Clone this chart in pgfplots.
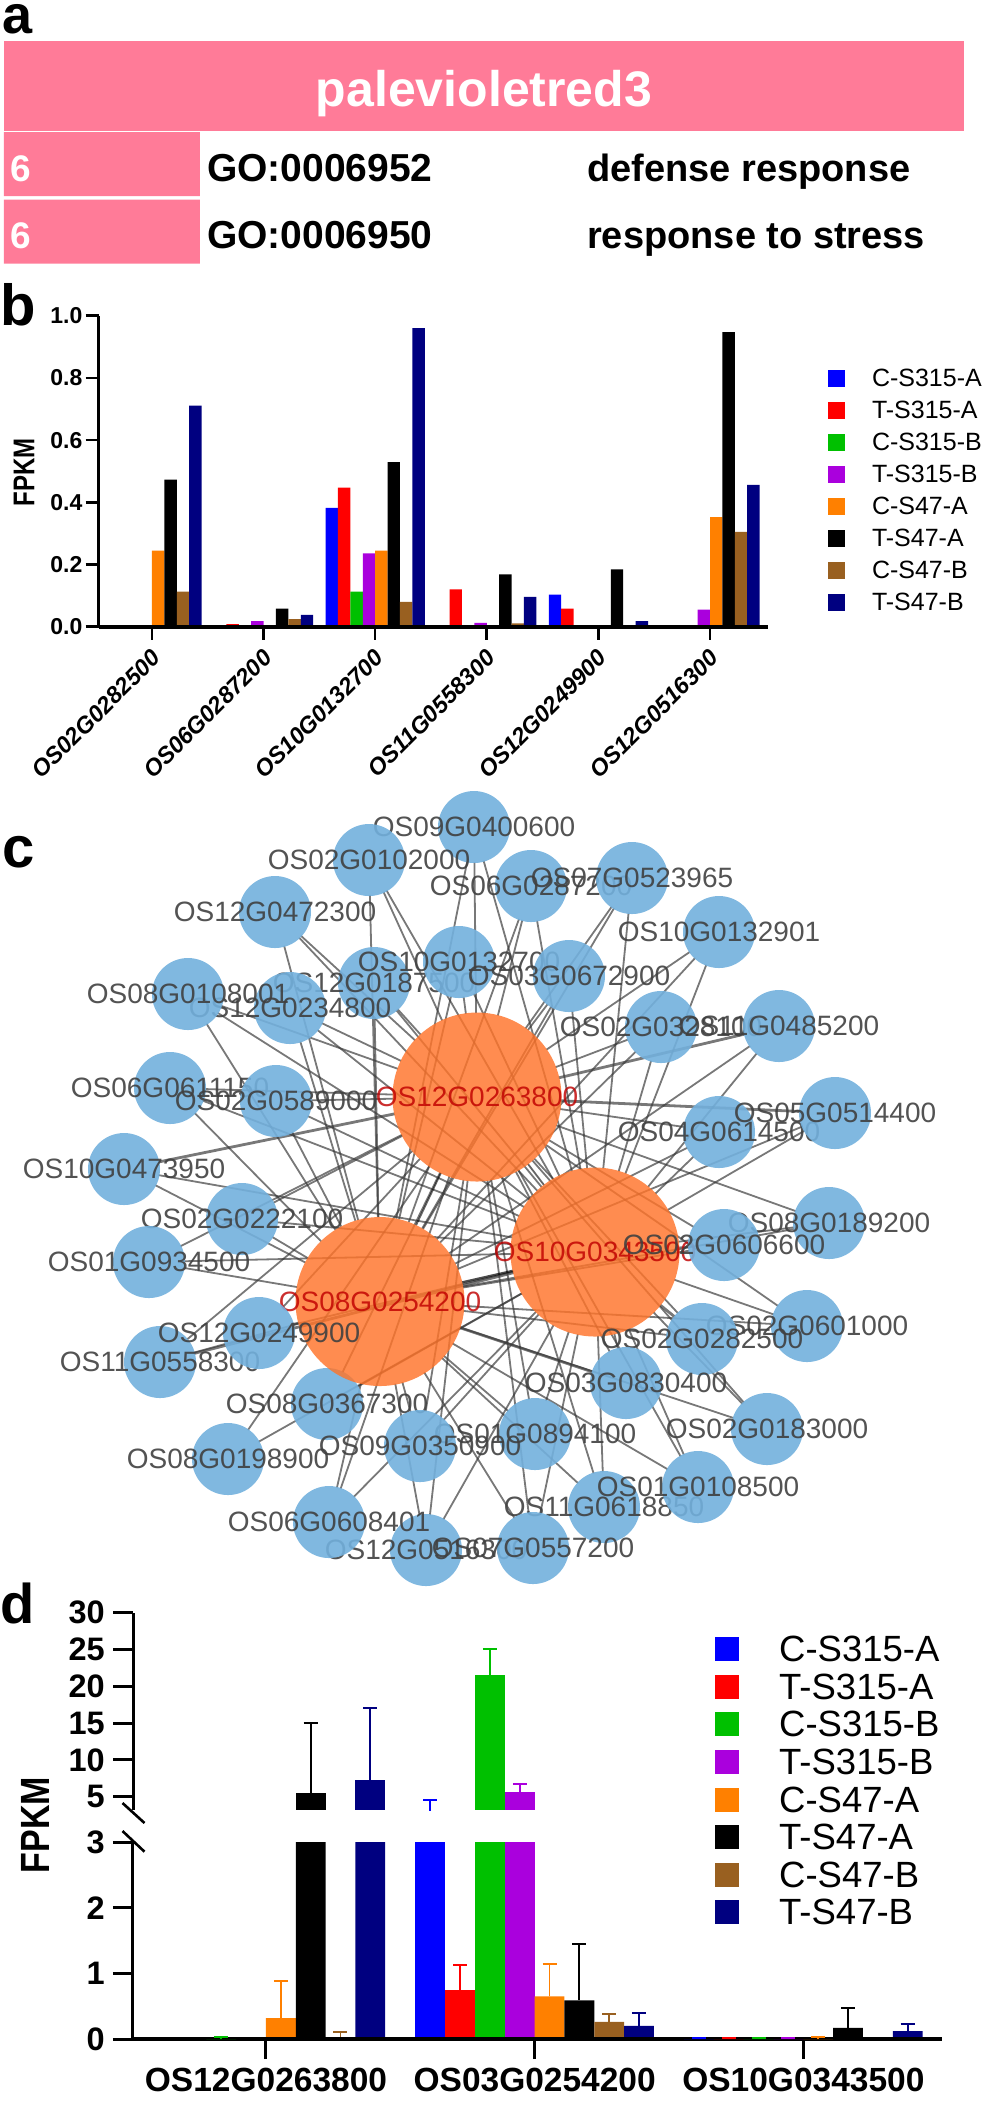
\documentclass[border=0pt]{standalone}
\usepackage{fontspec}
\setmainfont{Liberation Sans}
\usepackage{pgfplots}
\pgfplotsset{compat=1.18}
\definecolor{pinkc}{HTML}{FF7B98}
\definecolor{sA}{HTML}{0000FF}
\definecolor{sB}{HTML}{FF0000}
\definecolor{sC}{HTML}{00C000}
\definecolor{sD}{HTML}{AA00DD}
\definecolor{sE}{HTML}{FF8000}
\definecolor{sF}{HTML}{000000}
\definecolor{sG}{HTML}{996020}
\definecolor{sH}{HTML}{000080}
\definecolor{nblue}{HTML}{72B0DD}
\definecolor{nor}{HTML}{FF7329}
\definecolor{lab}{HTML}{404040}
\definecolor{redl}{HTML}{C00000}
\definecolor{edge}{HTML}{383838}
\newcommand{\fs}[1]{\fontsize{#1}{#1}\selectfont}
% network helpers: blue node, hub, edges to the three hubs
\newcommand{\bn}[3]{\addplot[only marks,mark=*,mark size=36pt,mark options={draw opacity=0,fill=nblue,fill opacity=0.9},nodes near coords={#3},nodes near coords align={anchor=center},every node near coord/.append style={font=\fs{28},text=lab,inner sep=0pt}] coordinates {(#1,#2)};}
\newcommand{\hub}[3]{\addplot[only marks,mark=*,mark size=84.5pt,mark options={draw opacity=0,fill=nor,fill opacity=0.82},nodes near coords={#3},nodes near coords align={anchor=center},every node near coord/.append style={font=\fs{28},text=redl,inner sep=0pt}] coordinates {(#1,#2)};}
\pgfplotsset{edg/.style={no marks,draw=edge,draw opacity=0.68,line width=1.8pt,shorten <=35pt,shorten >=84pt},
 edgt/.style={no marks,draw=edge,draw opacity=0.68,line width=2.8pt,shorten <=35pt,shorten >=84pt}}
\newcommand{\eA}[2]{\addplot[edg] coordinates {(#1,#2)(477,1097)};}
\newcommand{\eB}[2]{\addplot[edg] coordinates {(#1,#2)(595,1252)};}
\newcommand{\eC}[2]{\addplot[edg] coordinates {(#1,#2)(380,1301)};}
\newcommand{\tA}[2]{\addplot[edgt] coordinates {(#1,#2)(477,1097)};}
\newcommand{\tB}[2]{\addplot[edgt] coordinates {(#1,#2)(595,1252)};}
\newcommand{\tC}[2]{\addplot[edgt] coordinates {(#1,#2)(380,1301)};}
\pgfplotsset{
 sq/.style={legend image code/.code={\fill[##1,draw=none] (0pt,-0.5*#1pt) rectangle (#1pt,0.5*#1pt);\path (0pt,0pt) (\legwid,0pt);}},
 ebar/.style={fill=#1,draw=none,error bars/y dir=plus,error bars/y explicit,error bars/error bar style={line width=1.8pt,color=#1},error bars/error mark options={rotate=90,mark size=7pt,line width=2pt,color=#1}},
 nbar/.style={fill=#1,draw=none},
}
\newcommand{\legwid}{44pt}
\begin{document}
\begin{tikzpicture}
\path[use as bounding box] (0pt,0pt) rectangle (985pt,-2105pt);
% ---------- panel a
\fill[pinkc] (4pt,-41pt) rectangle (964pt,-131pt);
\begin{axis}[at={(4pt,-263pt)},anchor=south west,scale only axis,width=196pt,height=131pt,
 xmin=0,xmax=6,ymin=-0.4667,ymax=1.474,hide axis,xbar,bar width=64pt]
\addplot[fill=pinkc,draw=none] coordinates {(6,1)(6,0)};
\end{axis}
\node[anchor=base,text=white,inner sep=0pt] at (484pt,-106.7pt) {\fs{50}\bfseries palevioletred3};
\node[anchor=base west,text=white,inner sep=0pt] at (10pt,-181.7pt) {\fs{37}\bfseries 6};
\node[anchor=base west,text=white,inner sep=0pt] at (10pt,-248.3pt) {\fs{37}\bfseries 6};
\node[anchor=base west,inner sep=0pt] at (207pt,-181.7pt) {\fs{39}\bfseries GO:0006952};
\node[anchor=base west,inner sep=0pt] at (207pt,-248.3pt) {\fs{39}\bfseries GO:0006950};
\node[anchor=base west,inner sep=0pt] at (587pt,-181.7pt) {\fs{38}\bfseries defense response};
\node[anchor=base west,inner sep=0pt] at (587pt,-248.3pt) {\fs{38}\bfseries response to stress};
\node[anchor=base west,inner sep=0pt] at (2pt,-33pt) {\fs{54}\bfseries a};
\node[anchor=base west,inner sep=0pt] at (0pt,-325pt) {\fs{58}\bfseries b};
\node[anchor=base west,inner sep=0pt] at (2pt,-867pt) {\fs{58}\bfseries c};
\node[anchor=base west,inner sep=0pt] at (0pt,-1623pt) {\fs{56}\bfseries d};
% ---------- panel b
\renewcommand{\legwid}{44pt}
\begin{axis}[at={(98.6pt,-626.7pt)},anchor=south west,scale only axis,width=669pt,height=311pt,
 xmin=-0.478,xmax=5.516,ymin=0,ymax=1,axis lines=left,axis line style={-},axis on top,
 x axis line style={line width=3.8pt},y axis line style={line width=2.6pt},
 ybar=0pt,bar width=12.4pt,
 tick style={line width=2.6pt,black},major tick length=13pt,tick align=outside,
 ytick={0,0.2,0.4,0.6,0.8,1},yticklabels={0.0,0.2,0.4,0.6,0.8,1.0},
 yticklabel style={font=\fs{23}\bfseries,inner sep=1pt,xshift=-2pt},
 xtick={0,1,2,3,4,5},xticklabels={OS02G0282500,OS06G0287200,OS10G0132700,OS11G0558300,OS12G0249900,OS12G0516300},
 xticklabel style={rotate=45,anchor=north east,font=\fs{23.5}\bfseries\itshape,inner sep=0pt,xshift=-7pt,yshift=-4.5pt},
 ylabel={\scalebox{1}[1.25]{FPKM}},y label style={font=\fs{24}\bfseries,at={(axis description cs:-0.1115,0.497)},anchor=center},
 sq=17,
 legend style={at={(1.09,0.827)},anchor=north west,draw=none,fill=none,inner sep=0pt,row sep=15pt,font=\fs{25},
  nodes={inner sep=0pt,text height=17pt,text depth=0pt}},legend cell align=left]
\addplot[nbar=sA] coordinates {(2,0.382)(3,0.005)(4,0.103)};
\addplot[nbar=sB] coordinates {(1,0.008)(2,0.447)(3,0.12)(4,0.058)};
\addplot[nbar=sC] coordinates {(2,0.113)(3,0.001)};
\addplot[nbar=sD] coordinates {(1,0.018)(2,0.236)(3,0.012)(5,0.055)};
\addplot[nbar=sE] coordinates {(0,0.245)(1,0.002)(2,0.245)(3,0.005)(5,0.352)};
\addplot[nbar=sF] coordinates {(0,0.473)(1,0.058)(2,0.529)(3,0.168)(4,0.184)(5,0.947)};
\addplot[nbar=sG] coordinates {(0,0.113)(1,0.024)(2,0.08)(3,0.011)(5,0.305)};
\addplot[nbar=sH] coordinates {(0,0.711)(1,0.038)(2,0.96)(3,0.096)(4,0.018)(5,0.456)};
\legend{C-S315-A,T-S315-A,C-S315-B,T-S315-B,C-S47-A,T-S47-A,C-S47-B,T-S47-B}
\end{axis}
% ---------- panel c
\begin{axis}[at={(0pt,-2105pt)},anchor=south west,scale only axis,width=985pt,height=2105pt,
 xmin=0,xmax=985,ymin=0,ymax=2105,y dir=reverse,hide axis,clip=false]
% edges
\eA{474}{827}\eB{474}{827}\eC{474}{827}
\eA{369}{860}\eB{369}{860}\eC{369}{860}
\eA{531}{886}\eB{531}{886}\eC{531}{886}
\eA{632}{878}\eB{632}{878}\eC{632}{878}
\eA{275}{912}\eB{275}{912}\eC{275}{912}
\eA{719}{932}\eB{719}{932}\eC{719}{932}
\eA{459}{962}\eB{459}{962}\eC{459}{962}
\eA{569}{976}\eB{569}{976}\eC{569}{976}
\eA{374}{983}\eB{374}{983}\eC{374}{983}
\eA{188}{994}\eB{188}{994}\eC{188}{994}
\eA{290}{1008}\eB{290}{1008}\eC{290}{1008}
\eA{661}{1027}\eB{661}{1027}\eC{661}{1027}
\tA{779}{1026}\eB{779}{1026}\eC{779}{1026}
\eA{170}{1088}\eB{170}{1088}\eC{170}{1088}
\eA{276}{1101}\eB{276}{1101}\eC{276}{1101}
\tA{835}{1113}\eB{835}{1113}\eC{835}{1113}
\eA{719}{1132}\eB{719}{1132}\eC{719}{1132}
\tA{124}{1169}\eB{124}{1169}\eC{124}{1169}
\eA{242}{1219}\eB{242}{1219}\eC{242}{1219}
\eA{829}{1223}\eB{829}{1223}\eC{829}{1223}
\eA{724}{1245}\eB{724}{1245}\eC{724}{1245}
\eA{149}{1262}\eB{149}{1262}\eC{149}{1262}
\eA{807}{1326}\eB{807}{1326}\eC{807}{1326}
\eA{259}{1333}\eB{259}{1333}\eC{259}{1333}
\eA{702}{1339}\tB{702}{1339}\eC{702}{1339}
\eA{160}{1362}\tB{160}{1362}\eC{160}{1362}
\eA{626}{1383}\eB{626}{1383}\tC{626}{1383}
\eA{327}{1404}\eB{327}{1404}
\eA{767}{1429}\eB{767}{1429}\eC{767}{1429}
\eA{535}{1434}\eB{535}{1434}\eC{535}{1434}
\eA{420}{1446}\eB{420}{1446}\eC{420}{1446}
\eA{228}{1459}\eB{228}{1459}
\eA{698}{1487}\eB{698}{1487}\eC{698}{1487}
\eA{604}{1507}\eB{604}{1507}\eC{604}{1507}
\eA{329}{1522}\eB{329}{1522}\eC{329}{1522}
\eA{533}{1548}\eB{533}{1548}\eC{533}{1548}
\eA{426}{1550}\eB{426}{1550}\eC{426}{1550}
\addplot[no marks,draw=black,draw opacity=0.7,line width=2.2pt,shorten <=84pt,shorten >=84pt] coordinates {(380,1301)(595,1252)};
\addplot[no marks,draw=black,draw opacity=0.6,line width=1.8pt,shorten <=84pt,shorten >=84pt] coordinates {(380,1301)(477,1097)};
\addplot[no marks,draw=black,draw opacity=0.6,line width=1.8pt,shorten <=84pt,shorten >=84pt] coordinates {(477,1097)(595,1252)};
% nodes, in stacking order
\bn{327}{1404}{OS08G0367300}
\hub{380}{1301.5}{OS08G0254200}
\hub{595}{1252}{OS10G0343500}
\hub{477}{1097}{OS12G0263800}
\bn{474}{827}{OS09G0400600}
\bn{369}{860}{OS02G0102000}
\bn{275}{912}{OS12G0472300}
\bn{531}{886}{OS06G0287200}
\bn{632}{878}{OS07G0523965}
\bn{719}{932}{OS10G0132901}
\bn{374}{983}{OS12G0187500}
\bn{290}{1008}{OS12G0234800}
\bn{188}{994}{OS08G0108001}
\bn{459}{962}{OS10G0132700}
\bn{569}{976}{OS03G0672900}
\bn{661}{1027}{OS02G0328100}
\bn{779}{1026}{OS11G0485200}
\bn{170}{1088}{OS06G0611150}
\bn{276}{1101}{OS02G0589000}
\bn{719}{1132}{OS04G0614500}
\bn{835}{1113}{OS05G0514400}
\bn{124}{1169}{OS10G0473950}
\bn{242}{1219}{OS02G0222100}
\bn{149}{1262}{OS01G0934500}
\bn{160}{1362}{OS11G0558300}
\bn{259}{1333}{OS12G0249900}
\bn{829}{1223}{OS08G0189200}
\bn{724}{1245}{OS02G0606600}
\bn{807}{1326}{OS02G0601000}
\bn{702}{1339}{OS02G0282500}
\bn{626}{1383}{OS03G0830400}
\bn{767}{1429}{OS02G0183000}
\bn{535}{1434}{OS01G0894100}
\bn{420}{1446}{OS09G0350900}
\bn{228}{1459}{OS08G0198900}
\bn{604}{1507}{OS11G0618850}
\bn{698}{1487}{OS01G0108500}
\bn{426}{1550}{OS12G0516300}
\bn{329}{1522}{OS06G0608401}
\bn{533}{1548}{OS07G0557200}
\end{axis}
% ---------- panel d, upper part
\begin{axis}[at={(133pt,-1810pt)},anchor=south west,scale only axis,width=809pt,height=197.3pt,
 xmin=-0.495,xmax=2.516,ymin=3.2,ymax=30,axis y line=left,axis x line=none,axis line style={-},
 y axis line style={line width=3pt},
 ybar=0pt,bar width=29.8pt,xtick=\empty,
 tick style={line width=3pt,black},major tick length=20pt,tick align=outside,
 ytick={5,10,15,20,25,30},yticklabels={5,10,15,20,25,30},
 yticklabel style={font=\fs{32.5}\bfseries,inner sep=2pt,xshift=-6pt}]
\addplot[ebar=sA,fill=none] coordinates {(1,3.1) +- (0,1.5)};
\addplot[draw=none,fill=none] coordinates {(1,3.3)};
\addplot[ebar=sC] coordinates {(1,21.6) +- (0,3.5)};
\addplot[ebar=sD] coordinates {(1,5.65) +- (0,1.05)};
\addplot[draw=none,fill=none] coordinates {(1,3.3)};
\addplot[ebar=sF] coordinates {(0,5.5) +- (0,9.5)};
\addplot[draw=none,fill=none] coordinates {(1,3.3)};
\addplot[ebar=sH] coordinates {(0,7.25) +- (0,9.75)};
\end{axis}
% ---------- panel d, lower part
\renewcommand{\legwid}{64pt}
\begin{axis}[at={(133pt,-2039pt)},anchor=south west,scale only axis,width=809pt,height=196.7pt,
 xmin=-0.495,xmax=2.516,ymin=0,ymax=3,axis lines=left,axis line style={-},axis on top,
 x axis line style={line width=4.5pt},y axis line style={line width=3pt},
 ybar=0pt,bar width=29.8pt,
 tick style={line width=3pt,black},major tick length=20pt,tick align=outside,
 ytick={0,1,2,3},yticklabels={0,1,2,3},
 yticklabel style={font=\fs{32.5}\bfseries,inner sep=2pt,xshift=-6pt},
 xtick={0,1,2},xticklabels={OS12G0263800,OS03G0254200,OS10G0343500},
 xticklabel style={font=\fs{33.5}\bfseries,inner sep=0pt,yshift=-9pt},
 ylabel={\scalebox{1}[1.2]{FPKM}},y label style={font=\fs{34}\bfseries,at={(axis description cs:-0.12,1.088)},anchor=center},
 sq=24,
 legend style={at={(0.7194,2.046)},anchor=north west,draw=none,fill=none,inner sep=0pt,row sep=12.6pt,font=\fs{36.5},
  nodes={inner sep=0pt,text height=25pt,text depth=0pt}},legend cell align=left]
\addplot[ebar=sA] coordinates {(1,3.1) +- (0,1.5)};
\addplot[ebar=sB] coordinates {(1,0.75) +- (0,0.38)};
\addplot[ebar=sC] coordinates {(1,21.6) +- (0,3.5)};
\addplot[ebar=sD] coordinates {(1,5.65) +- (0,1.05)};
\addplot[ebar=sE] coordinates {(0,0.32) +- (0,0.57) (1,0.65) +- (0,0.5)};
\addplot[ebar=sF] coordinates {(0,5.5) +- (0,9.5) (1,0.59) +- (0,0.86) (2,0.17) +- (0,0.3)};
\addplot[ebar=sG] coordinates {(0,0.01) +- (0,0.09) (1,0.26) +- (0,0.12)};
\addplot[ebar=sH] coordinates {(0,7.25) +- (0,9.75) (1,0.2) +- (0,0.2) (2,0.12) +- (0,0.11)};
\legend{C-S315-A,T-S315-A,C-S315-B,T-S315-B,C-S47-A,T-S47-A,C-S47-B,T-S47-B}
\end{axis}
% small caps lying on the axis line
\begin{axis}[at={(133pt,-2039pt)},anchor=south west,scale only axis,width=809pt,height=196.7pt,
 xmin=-0.495,xmax=2.516,ymin=0,ymax=3,hide axis,clip=false,ybar=0pt,bar width=29.8pt]
\addplot[ebar=sA] coordinates {(2,0) +- (0,0.01)};
\addplot[ebar=sB] coordinates {(2,0) +- (0,0.01)};
\addplot[ebar=sC] coordinates {(0,0) +- (0,0.035) (2,0) +- (0,0.01)};
\addplot[ebar=sD] coordinates {(2,0) +- (0,0.01)};
\addplot[ebar=sE] coordinates {(2,0) +- (0,0.035)};
\addplot[draw=none,fill=none] coordinates {(2,0)};
\addplot[draw=none,fill=none] coordinates {(2,0)};
\addplot[draw=none,fill=none] coordinates {(2,0)};
\end{axis}
\draw[line width=2.6pt] (122.5pt,-1831pt)--(144.5pt,-1851.7pt);
\draw[line width=2.6pt] (122.5pt,-1803pt)--(144.5pt,-1823pt);
\end{tikzpicture}
\end{document}
